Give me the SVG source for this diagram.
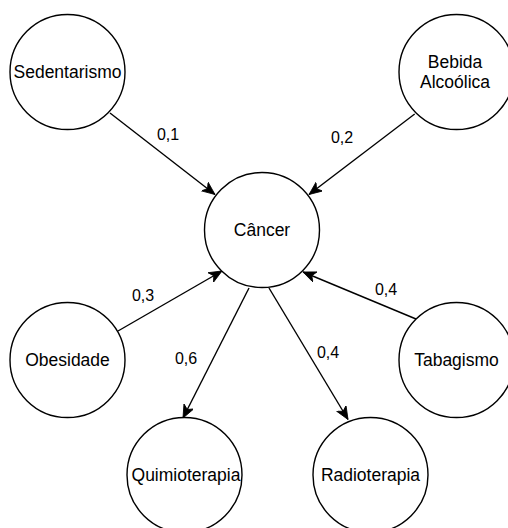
<svg xmlns="http://www.w3.org/2000/svg" width="508" height="528" viewBox="0 0 508 528">
  <style>
    .node circle { fill: #ffffff; stroke: #000000; stroke-width: 1.4; }
    .node text { font-family: "Liberation Sans", Arial, Helvetica, sans-serif; font-size: 17.5px; fill: #000000; text-anchor: middle; }
    .edge { stroke: #000000; stroke-width: 1.4; fill: none; marker-end: url(#arrow); }
    .label { font-family: "Liberation Sans", Arial, Helvetica, sans-serif; font-size: 16px; fill: #000000; text-anchor: middle; }
  </style>
  <defs>
    <marker id="arrow" markerUnits="userSpaceOnUse" markerWidth="14" markerHeight="12" refX="13" refY="5.5" orient="auto">
      <path d="M0,0 L13,5.5 L0,11 L3.5,5.5 Z" fill="#000000" stroke="#000000" stroke-width="0.8" stroke-linejoin="miter"/>
    </marker>
  </defs>
  <rect width="508" height="528" fill="#ffffff"/>

  <!-- connectors -->
  <g id="edges">
    <line class="edge" x1="110" y1="113" x2="215" y2="194.5"/>
    <line class="edge" x1="414.7" y1="114" x2="309" y2="194.5"/>
    <line class="edge" x1="118" y1="331" x2="222" y2="271"/>
    <line class="edge" x1="249" y1="288" x2="183" y2="418"/>
    <line class="edge" x1="269" y1="288" x2="348" y2="419.5"/>
    <line class="edge" x1="416" y1="319" x2="303" y2="272"/>
    <text class="label" x="168" y="140">0,1</text>
    <text class="label" x="342" y="143">0,2</text>
    <text class="label" x="143" y="301">0,3</text>
    <text class="label" x="186" y="364">0,6</text>
    <text class="label" x="386" y="295">0,4</text>
    <text class="label" x="328" y="358">0,4</text>
  </g>

  <!-- nodes -->
  <g id="sedentarismo" class="node">
    <circle cx="67.5" cy="72" r="57.5"/>
    <text x="67.5" y="78">Sedentarismo</text>
  </g>
  <g id="bebida" class="node">
    <circle cx="456.5" cy="72" r="57.5"/>
    <text x="455" y="68">Bebida</text>
    <text x="455" y="88">Alcoólica</text>
  </g>
  <g id="cancer" class="node">
    <circle cx="262" cy="230" r="57.5"/>
    <text x="262" y="236">Câncer</text>
  </g>
  <g id="obesidade" class="node">
    <circle cx="67.5" cy="360" r="57.5"/>
    <text x="67.5" y="366">Obesidade</text>
  </g>
  <g id="tabagismo" class="node">
    <circle cx="456.5" cy="360" r="57.5"/>
    <text x="456.5" y="366">Tabagismo</text>
  </g>
  <g id="quimioterapia" class="node">
    <circle cx="184.5" cy="475" r="57.5"/>
    <text x="186" y="481">Quimioterapia</text>
  </g>
  <g id="radioterapia" class="node">
    <circle cx="370.5" cy="475" r="57.5"/>
    <text x="370.5" y="481">Radioterapia</text>
  </g>
</svg>
